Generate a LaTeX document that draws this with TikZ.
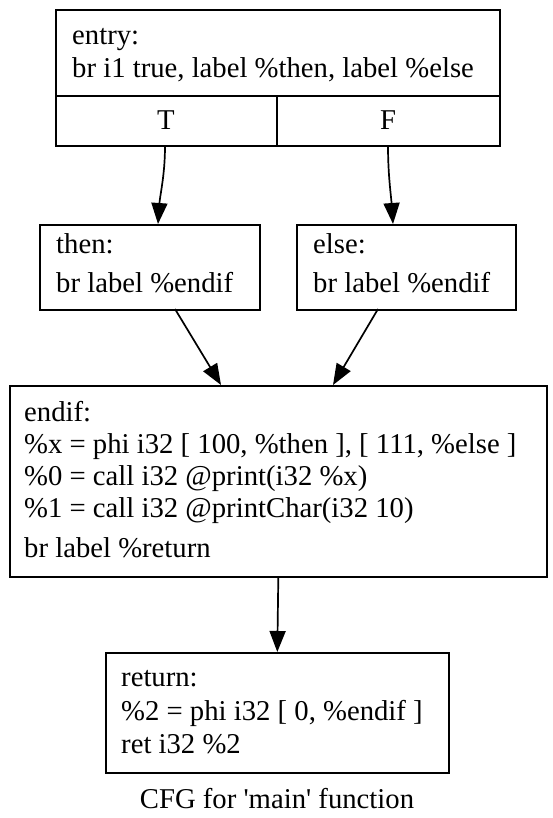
\documentclass[tikz,border=0pt]{standalone}
\usepackage{fontspec}
\setmainfont{Liberation Serif}
\newfontfamily\capfont{Liberation Serif}[Ligatures=TeXOff]
\usetikzlibrary{arrows.meta}
\begin{document}
\begin{tikzpicture}[x=1pt,y=-1pt,
  box/.style={draw,line width=1.6pt,inner sep=0pt,anchor=north west},
  txt/.style={anchor=base west,inner sep=0pt,font=\fontsize{28.7}{32}\selectfont},
  ctxt/.style={anchor=base,inner sep=0pt,font=\fontsize{28.7}{32}\selectfont},
  edge/.style={line width=1.7pt,-{Triangle[length=21pt,width=16pt]}}]
\useasboundingbox (0,0) rectangle (553,818);
% entry
\node[box,minimum width=444pt,minimum height=136pt] (entry) at (55,9) {};
\coordinate (d1) at (55,96);
\coordinate (d2) at (499,96);
\coordinate (v1) at (277,96);
\coordinate (v2) at (277,145);
\draw[line width=1.6pt] (d1) -- (d2);
\draw[line width=1.6pt] (v1) -- (v2);
\node[txt] (e1) at (72,45) {entry:};
\node[txt] (e2) at (72,78) {br i1 true, label \%then, label \%else};
\node[ctxt] (pT) at (166,130) {T};
\node[ctxt] (pF) at (388,130) {F};
\coordinate (sT) at (165,146);
\coordinate (sF) at (388,146);
% then / else
\node[box,minimum width=220pt,minimum height=85pt] (then) at (39,224) {};
\node[txt] (t1) at (56,253) {then:};
\node[txt] (t2) at (56,292) {br label \%endif};
\node[box,minimum width=219pt,minimum height=85pt] (else) at (296,224) {};
\node[txt] (l1) at (313,253) {else:};
\node[txt] (l2) at (313,292) {br label \%endif};
% endif
\node[box,minimum width=537pt,minimum height=191pt] (endif) at (9,385) {};
\node[txt] (n1) at (24,421) {endif:};
\node[txt] (n2) at (24,453) {\%x = phi i32 [ 100, \%then ], [ 111, \%else ]};
\node[txt] (n3) at (24,485) {\%0 = call i32 @print(i32 \%x)};
\node[txt] (n4) at (24,517) {\%1 = call i32 @printChar(i32 10)};
\node[txt] (n5) at (24,557) {br label \%return};
% return
\node[box,minimum width=343pt,minimum height=120pt] (ret) at (105,652) {};
\node[txt] (r1) at (121,686) {return:};
\node[txt] (r2) at (121,720) {\%2 = phi i32 [ 0, \%endif ]};
\node[txt] (r3) at (121,753) {ret i32 \%2};
\node[ctxt] (cap) at (277,808) {\capfont CFG for 'main' function};
% edges
\coordinate (tT) at (158,224);
\coordinate (tF) at (393,224);
\draw[edge] (sT) .. controls (165,175) and (160,195) .. (tT);
\draw[edge] (sF) .. controls (388,175) and (391,195) .. (tF);
\coordinate (a1) at (175,309);
\coordinate (a2) at (221,385);
\coordinate (b1) at (378,309);
\coordinate (b2) at (333,385);
\draw[edge] (a1) -- (a2);
\draw[edge] (b1) -- (b2);
\draw[edge] (endif.south) -- (ret.north);
\end{tikzpicture}
\end{document}
